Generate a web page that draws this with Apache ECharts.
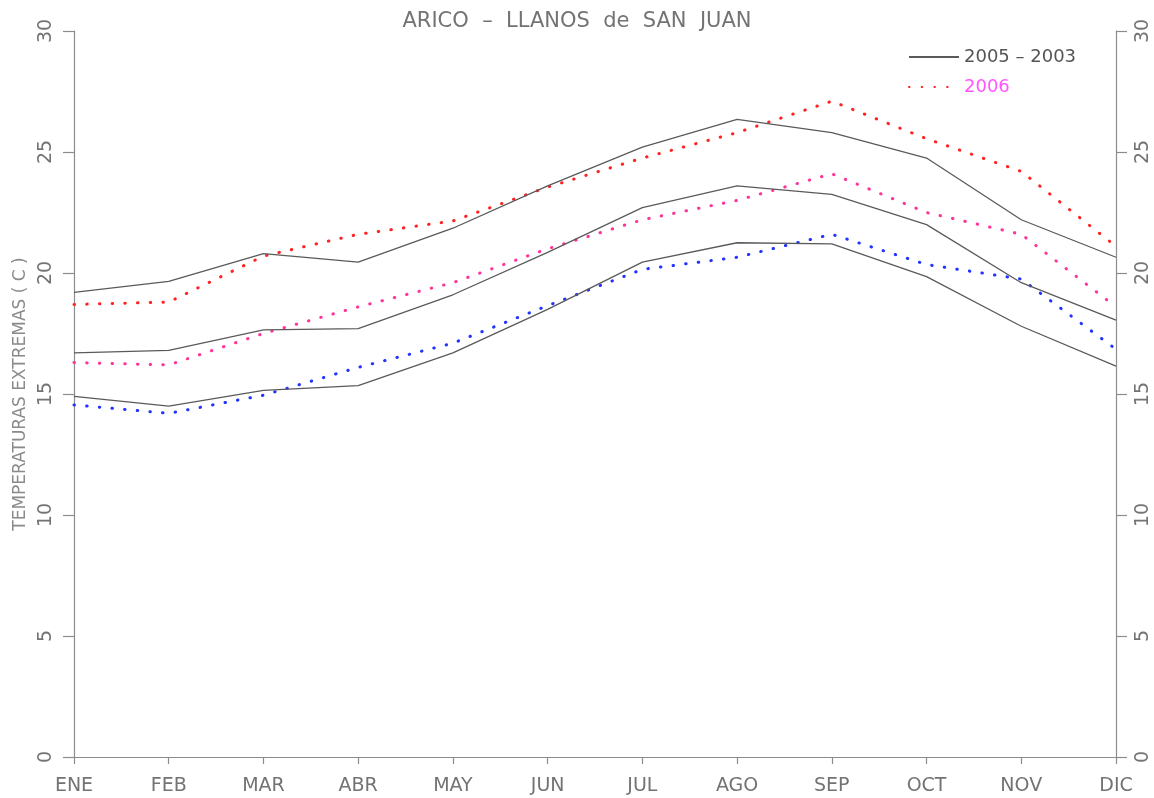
<!DOCTYPE html>
<html>
<head>
<meta charset="utf-8">
<script src="https://cdn.jsdelivr.net/npm/echarts@6/dist/echarts.min.js"></script>
<style>
  html, body { margin: 0; padding: 0; background: #fff; }
  #chart { width: 1154px; height: 798px; }
</style>
</head>
<body>
<div id="chart"></div>
<script>
// Months (Spanish abbreviations)
const months = ['ENE', 'FEB', 'MAR', 'ABR', 'MAY', 'JUN', 'JUL', 'AGO', 'SEP', 'OCT', 'NOV', 'DIC'];

// Reference period 2005 - 2003: maximum, mean and minimum (°C)
const refMax  = [19.2, 19.65, 20.8, 20.45, 21.85, 23.6, 25.2, 26.35, 25.8, 24.75, 22.2, 20.65];
const refMean = [16.7, 16.8, 17.65, 17.7, 19.1, 20.85, 22.7, 23.6, 23.25, 22.0, 19.6, 18.05];
const refMin  = [14.9, 14.5, 15.15, 15.35, 16.7, 18.5, 20.45, 21.25, 21.2, 19.85, 17.8, 16.15];

// Year 2006: maximum, mean and minimum (°C)
const y06Max  = [18.7, 18.8, 20.7, 21.6, 22.15, 23.55, 24.75, 25.8, 27.1, 25.55, 24.2, 21.1];
const y06Mean = [16.3, 16.2, 17.5, 18.6, 19.6, 21.0, 22.2, 23.0, 24.1, 22.5, 21.6, 18.6];
const y06Min  = [14.55, 14.2, 14.95, 16.1, 17.1, 18.65, 20.15, 20.65, 21.6, 20.35, 19.75, 16.85];

const yTicks = { min: 0, max: 30, interval: 5 };

const FONT = 'DejaVu Sans';
const TEXT = '#737373';
const AXIS = '#8c8c8c';

const refName = '2005 \u2013 2003';
const y06Name = '2006';

function solid(data) {
  return {
    name: refName, type: 'line', data: data, symbol: 'none', silent: true,
    lineStyle: { color: '#5a5a5a', width: 1.3 }, itemStyle: { color: '#5a5a5a' }
  };
}
function dotted(data, color) {
  return {
    name: y06Name, type: 'line', data: data, symbol: 'none', silent: true,
    lineStyle: { color: color, width: 3, type: [0.5, 12.2], cap: 'round' },
    itemStyle: { color: color }
  };
}

const yAxisBase = {
  type: 'value', min: yTicks.min, max: yTicks.max, interval: yTicks.interval,
  splitLine: { show: false },
  axisLine: { show: true, lineStyle: { color: AXIS, width: 1.2 } },
  axisTick: { show: true, length: 11, lineStyle: { color: AXIS, width: 1.2 } },
  axisLabel: { rotate: 90, fontFamily: FONT, fontSize: 19, color: TEXT, margin: 18 }
};

const chart = echarts.init(document.getElementById('chart'), null, { renderer: 'canvas' });
chart.setOption({
  animation: false,
  backgroundColor: '#ffffff',
  title: {
    text: 'ARICO  \u2013  LLANOS  de  SAN  JUAN',
    left: 'center', top: 6,
    textStyle: { fontFamily: FONT, fontSize: 21, fontWeight: 'normal', color: TEXT }
  },
  legend: {
    orient: 'vertical', left: 903, top: 43,
    itemWidth: 50, itemHeight: 20, itemGap: 12,
    itemStyle: { opacity: 0 },
    textStyle: { fontFamily: FONT, fontSize: 18 },
    data: [
      { name: refName, textStyle: { color: '#555555' } },
      { name: y06Name, textStyle: { color: '#ff55ff' } }
    ]
  },
  grid: { left: 74, right: 38, top: 31, bottom: 41, containLabel: false },
  xAxis: {
    type: 'category', data: months, boundaryGap: false,
    axisLine: { lineStyle: { color: AXIS, width: 1.2 } },
    axisTick: { show: true, length: 7, alignWithLabel: true, lineStyle: { color: AXIS, width: 1.2 } },
    axisLabel: { fontFamily: FONT, fontSize: 19, color: TEXT, margin: 20, interval: 0 }
  },
  yAxis: [
    Object.assign({}, yAxisBase, {
      position: 'left',
      name: 'TEMPERATURAS EXTREMAS ( C )',
      nameLocation: 'middle', nameRotate: 90, nameGap: 43,
      nameTextStyle: { fontFamily: FONT, fontSize: 17, color: '#8a8a8a' }
    }),
    Object.assign({}, yAxisBase, { position: 'right' })
  ],
  series: [
    dotted(y06Max, '#ff2222'),
    dotted(y06Mean, '#ff3399'),
    dotted(y06Min, '#2233ff'),
    solid(refMax),
    solid(refMean),
    solid(refMin)
  ]
});
</script>
</body>
</html>
